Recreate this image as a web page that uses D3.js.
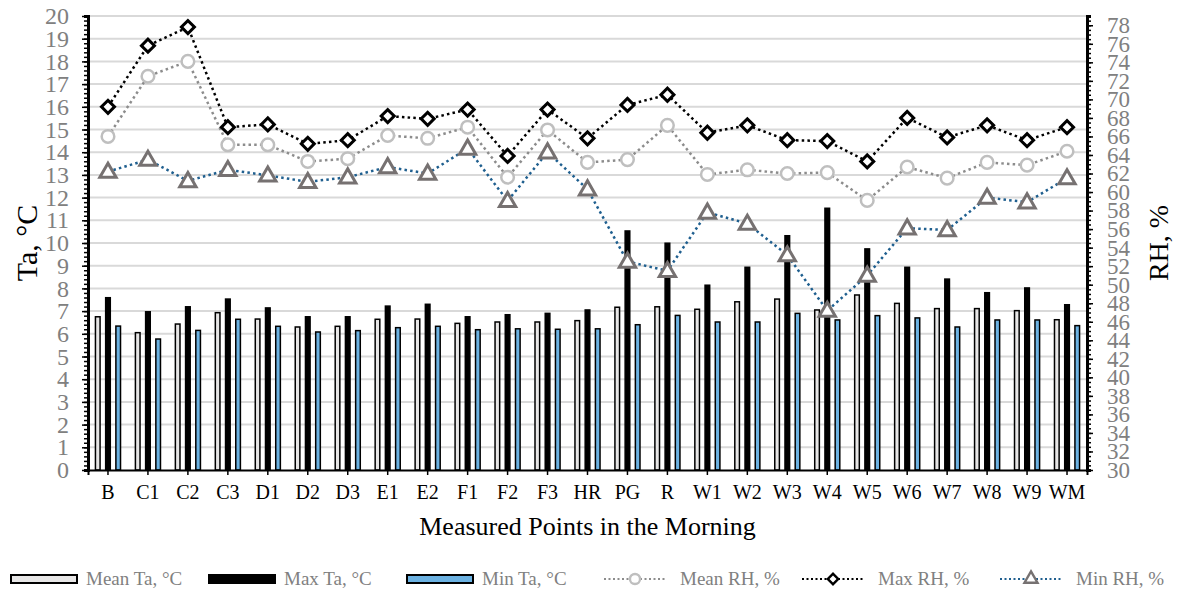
<!DOCTYPE html>
<html>
<head>
<meta charset="utf-8">
<script src="https://cdn.jsdelivr.net/npm/d3@7"></script>
<style>
  html, body { margin: 0; padding: 0; background: #fff; }
  svg { display: block; font-family: "Liberation Serif", "Times New Roman", serif; }
</style>
</head>
<body>
<svg id="chart" width="1186" height="597"></svg>
<script>
// Measured points
const categories = ["B","C1","C2","C3","D1","D2","D3","E1","E2","F1","F2","F3","HR","PG","R",
                    "W1","W2","W3","W4","W5","W6","W7","W8","W9","WM"];

// Air temperature, °C (left axis)
const meanTa = [6.75, 6.05, 6.43, 6.93, 6.65, 6.30, 6.33, 6.64, 6.65, 6.46, 6.52, 6.52, 6.58,
                7.17, 7.19, 7.08, 7.41, 7.53, 7.05, 7.71, 7.34, 7.11, 7.11, 7.02, 6.62];
const maxTa  = [7.59, 6.97, 7.19, 7.53, 7.14, 6.75, 6.75, 7.22, 7.30, 6.75, 6.84, 6.90, 7.05,
                10.53, 9.99, 8.14, 8.93, 10.32, 11.53, 9.74, 8.93, 8.41, 7.81, 8.02, 7.28];
const minTa  = [6.34, 5.77, 6.15, 6.64, 6.33, 6.08, 6.14, 6.27, 6.33, 6.18, 6.22, 6.20, 6.22,
                6.40, 6.81, 6.52, 6.52, 6.90, 6.61, 6.80, 6.70, 6.30, 6.61, 6.61, 6.36];

// Relative humidity, % (right axis)
const meanRH = [66.0, 72.5, 74.1, 65.1, 65.1, 63.3, 63.6, 66.1, 65.8, 67.0, 61.6, 66.7, 63.2,
                63.5, 67.2, 61.9, 62.4, 62.0, 62.1, 59.1, 62.7, 61.5, 63.2, 62.9, 64.4];
const maxRH  = [69.2, 75.8, 77.8, 67.0, 67.3, 65.2, 65.6, 68.2, 67.9, 68.9, 63.9, 68.9, 65.8,
                69.4, 70.5, 66.4, 67.2, 65.6, 65.5, 63.3, 68.0, 65.9, 67.2, 65.6, 67.0];
const minRH  = [62.2, 63.5, 61.2, 62.4, 61.8, 61.1, 61.6, 62.7, 62.0, 64.7, 59.05, 64.3, 60.3,
                52.5, 51.5, 57.8, 56.6, 53.2, 47.2, 51.0, 56.1, 55.9, 59.4, 58.9, 61.5];

// Axis ticks
const taTicks = d3.range(0, 21, 1);
const rhTicks = d3.range(30, 79, 2);

const barSeries = [
  { name: "Mean Ta, °C", values: meanTa, fill: "#e7e6e6", stroke: "#000" },
  { name: "Max Ta, °C",  values: maxTa,  fill: "#000000", stroke: "#000" },
  { name: "Min Ta, °C",  values: minTa,  fill: "#6cb2e2", stroke: "#000" }
];
const lineSeries = [
  { name: "Mean RH, %", values: meanRH, line: "#8c8c8c", marker: "circle",   mstroke: "#bfbfbf" },
  { name: "Max RH, %",  values: maxRH,  line: "#000000", marker: "diamond",  mstroke: "#000000" },
  { name: "Min RH, %",  values: minRH,  line: "#1f5f8f", marker: "triangle", mstroke: "#767171" }
];

const svg = d3.select("#chart");
const L = 88, R = 1087, T = 16, B = 470;
const labelGray = "#808080";

const x = d3.scaleBand().domain(categories).range([L, R]).paddingInner(0.335).paddingOuter(0.1675);
const xSub = d3.scaleBand().domain(barSeries.map(d => d.name)).range([0, x.bandwidth()])
  .paddingInner(0.40).paddingOuter(0);
const yL = d3.scaleLinear().domain([0, 20]).range([B, T]);
const yR = d3.scaleLinear().domain([30, 79]).range([B, T]);

// gridlines
svg.append("g").selectAll("line").data(taTicks.filter(d => d > 0)).join("line")
  .attr("x1", L).attr("x2", R).attr("y1", d => yL(d)).attr("y2", d => yL(d))
  .attr("stroke", "#d9d9d9").attr("stroke-width", 2);

// bars
const gBars = svg.append("g");
barSeries.forEach(s => {
  gBars.append("g").selectAll("rect").data(categories).join("rect")
    .attr("x", (c) => x(c) + xSub(s.name) + 0.75)
    .attr("width", xSub.bandwidth() - 1.5)
    .attr("y", (c, i) => yL(s.values[i]))
    .attr("height", (c, i) => yL(0) - yL(s.values[i]))
    .attr("fill", s.fill).attr("stroke", s.stroke).attr("stroke-width", 1.5);
});

// axes
function styleAxis(g, width) {
  g.select(".domain").attr("stroke", "#000").attr("stroke-width", width);
  g.selectAll(".tick line").attr("stroke", "#000").attr("stroke-width", 1.5);
}
// left minor ticks
svg.append("g").attr("transform", `translate(${L},0)`)
  .call(d3.axisLeft(yL).tickValues(d3.range(0, 20.001, 0.2)).tickSize(4).tickFormat(""))
  .call(g => styleAxis(g, 3));
// left major ticks + labels
svg.append("g").attr("transform", `translate(${L},0)`)
  .call(d3.axisLeft(yL).tickValues(taTicks).tickSize(6).tickPadding(13).tickSizeOuter(0))
  .call(g => styleAxis(g, 3))
  .call(g => g.selectAll("text").attr("fill", labelGray).attr("font-size", 24)
    .attr("font-family", "Liberation Serif"));
// right minor ticks
svg.append("g").attr("transform", `translate(${R},0)`)
  .call(d3.axisRight(yR).tickValues(d3.range(30, 79.001, 0.5)).tickSize(4).tickFormat(""))
  .call(g => styleAxis(g, 3));
// right major ticks + labels
svg.append("g").attr("transform", `translate(${R},0)`)
  .call(d3.axisRight(yR).tickValues(rhTicks).tickSize(6).tickPadding(14).tickSizeOuter(0))
  .call(g => styleAxis(g, 3))
  .call(g => g.selectAll("text").attr("fill", labelGray).attr("font-size", 23)
    .attr("font-family", "Liberation Serif"));
// bottom axis
svg.append("g").attr("transform", `translate(0,${B})`)
  .call(d3.axisBottom(x).tickSize(5).tickSizeOuter(5).tickPadding(10))
  .call(g => styleAxis(g, 2))
  .call(g => g.selectAll("text").attr("fill", "#000").attr("font-size", 20)
    .attr("font-family", "Liberation Serif"));

// humidity lines + markers
const symbolFor = {
  circle: d3.symbol().type(d3.symbolCircle).size(125),
  diamond: d3.symbol().type(d3.symbolSquare).size(85),
  triangle: d3.symbol().type(d3.symbolTriangle).size(115)
};
const xc = c => x(c) + x.bandwidth() / 2;
const gLines = svg.append("g");
lineSeries.forEach(s => {
  const line = d3.line().x((d, i) => xc(categories[i])).y(d => yR(d));
  gLines.append("path").datum(s.values).attr("d", line)
    .attr("fill", "none").attr("stroke", s.line).attr("stroke-width", 2.5)
    .attr("stroke-dasharray", "2.5,3.2");
});
lineSeries.forEach(s => {
  gLines.append("g").selectAll("path").data(s.values).join("path")
    .attr("d", symbolFor[s.marker])
    .attr("transform", (d, i) => `translate(${xc(categories[i])},${yR(d)})` +
      (s.marker === "diamond" ? " rotate(45)" : s.marker === "triangle" ? " translate(0,1)" : ""))
    .attr("fill", "#fff").attr("stroke", s.mstroke).attr("stroke-width", s.marker === "circle" ? 2.5 : 3);
});

// axis titles
svg.append("text").attr("transform", `translate(37,243) rotate(-90)`)
  .attr("text-anchor", "middle").attr("font-size", 30).attr("fill", "#000").text("Ta, °C");
svg.append("text").attr("transform", `translate(1168,243) rotate(-90)`)
  .attr("text-anchor", "middle").attr("font-size", 28).attr("fill", "#000").text("RH, %");
svg.append("text").attr("x", (L + R) / 2).attr("y", 535)
  .attr("text-anchor", "middle").attr("font-size", 26).attr("fill", "#000")
  .text("Measured Points in the Morning");

// legend
const legend = svg.append("g").attr("transform", "translate(0,579)");
const items = barSeries.map(s => ({ kind: "bar", s })).concat(lineSeries.map(s => ({ kind: "line", s })));
items.forEach((it, i) => {
  const g = legend.append("g").attr("transform", `translate(${10 + i * 198},0)`);
  if (it.kind === "bar") {
    g.append("rect").attr("x", 1).attr("y", -4).attr("width", 66).attr("height", 8)
      .attr("fill", it.s.fill).attr("stroke", it.s.stroke).attr("stroke-width", 2);
  } else {
    g.append("line").attr("x1", 0).attr("x2", 62).attr("y1", 0).attr("y2", 0)
      .attr("stroke", it.s.line).attr("stroke-width", 2).attr("stroke-dasharray", "2,2.5");
    g.append("path").attr("d", symbolFor[it.s.marker])
      .attr("transform", `translate(31,0)` + (it.s.marker === "diamond" ? " rotate(45) scale(0.8)" : " scale(0.8)"))
      .attr("fill", "#fff").attr("stroke", it.s.mstroke).attr("stroke-width", 3);
  }
  g.append("text").attr("x", 76).attr("y", 6).attr("font-size", 19).attr("fill", labelGray)
    .text(it.s.name);
});
</script>
</body>
</html>
